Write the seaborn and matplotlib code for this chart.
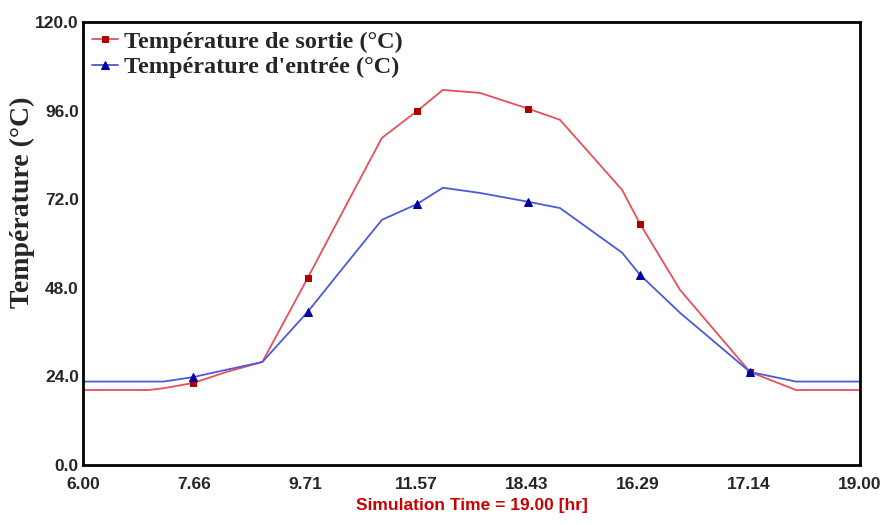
import numpy as np
import pandas as pd
import matplotlib
matplotlib.use("Agg")
import matplotlib.pyplot as plt
import seaborn as sns

# heures de simulation (axe x) et temperatures
hours = [6.0, 7.1, 7.35, 7.84, 8.4, 9.0, 9.76, 10.4, 11.0, 11.59, 12.02, 12.64,
         13.45, 13.98, 15.02, 15.32, 15.99, 17.16, 17.93, 19.0]
t_sortie = [20.3, 20.3, 20.8, 22.2, 25.2, 27.9, 50.7, 70.3, 88.6, 95.9, 101.6, 100.8,
            96.5, 93.5, 74.5, 65.3, 47.4, 25.2, 20.3, 20.3]
t_entree = [22.6, 22.6, 22.6, 23.8, 25.8, 27.9, 41.5, 54.4, 66.4, 70.7, 75.1, 73.7,
            71.3, 69.6, 57.5, 51.5, 41.2, 25.2, 22.6, 22.6]
marker_idx = [3, 6, 9, 12, 15, 17]

x_ticklabels = ["6.00", "7.66", "9.71", "11.57", "18.43", "16.29", "17.14", "19.00"]
y_ticks = [0, 24, 48, 72, 96, 120]

df = pd.DataFrame({"heure": hours, "sortie": t_sortie, "entree": t_entree})

sns.set_style("white")
plt.rcParams['axes.unicode_minus'] = False

fig = plt.figure(figsize=(8.86, 5.25), dpi=100)
ax = fig.add_axes([0.0937, 0.1143, 0.877, 0.8438])

sns.lineplot(data=df, x="heure", y="sortie", ax=ax, color="#e6505a", linewidth=1.3,
             marker="s", markersize=5, markerfacecolor="#b00000", markeredgecolor="#b00000",
             markevery=marker_idx, label="Température de sortie (°C)")
sns.lineplot(data=df, x="heure", y="entree", ax=ax, color="#4a5ad8", linewidth=1.3,
             marker="^", markersize=6, markerfacecolor="#0000a0", markeredgecolor="#0000a0",
             markevery=marker_idx, label="Température d'entrée (°C)")

ax.set_xlim(6, 19)
ax.set_ylim(0, 120)
ax.set_xticks(np.linspace(6, 19, len(x_ticklabels)))
ax.set_xticklabels(x_ticklabels)
ax.set_yticks(y_ticks)
ax.set_yticklabels(["%.1f" % v for v in y_ticks])

tick_font = ['Liberation Sans Narrow', 'Liberation Sans', 'DejaVu Sans']
serif_font = ['Liberation Serif', 'DejaVu Serif']
for lab in ax.get_xticklabels() + ax.get_yticklabels():
    lab.set_family(tick_font)
    lab.set_fontweight("bold")
    lab.set_fontsize(12.5)
ax.tick_params(axis="x", length=0, pad=9)
ax.tick_params(axis="y", length=0, pad=3)

for sp in ax.spines.values():
    sp.set_color("black")
    sp.set_linewidth(2)

ax.set_xlabel("Simulation Time = 19.00 [hr]", color="#cc0000", fontsize=12.5,
              fontweight="bold", family=tick_font, labelpad=4)
ax.set_ylabel("Température (°C)", fontsize=20, fontweight="bold", family=serif_font)
ax.yaxis.set_label_coords(-0.062, 0.594)

leg = ax.legend(loc="upper left", frameon=False, handlelength=1.1, handletextpad=0.25,
                borderaxespad=0.05, labelspacing=0.15, borderpad=0.3,
                prop={"family": serif_font, "weight": "bold", "size": 17.5})

fig.savefig("out.png", dpi=100)
